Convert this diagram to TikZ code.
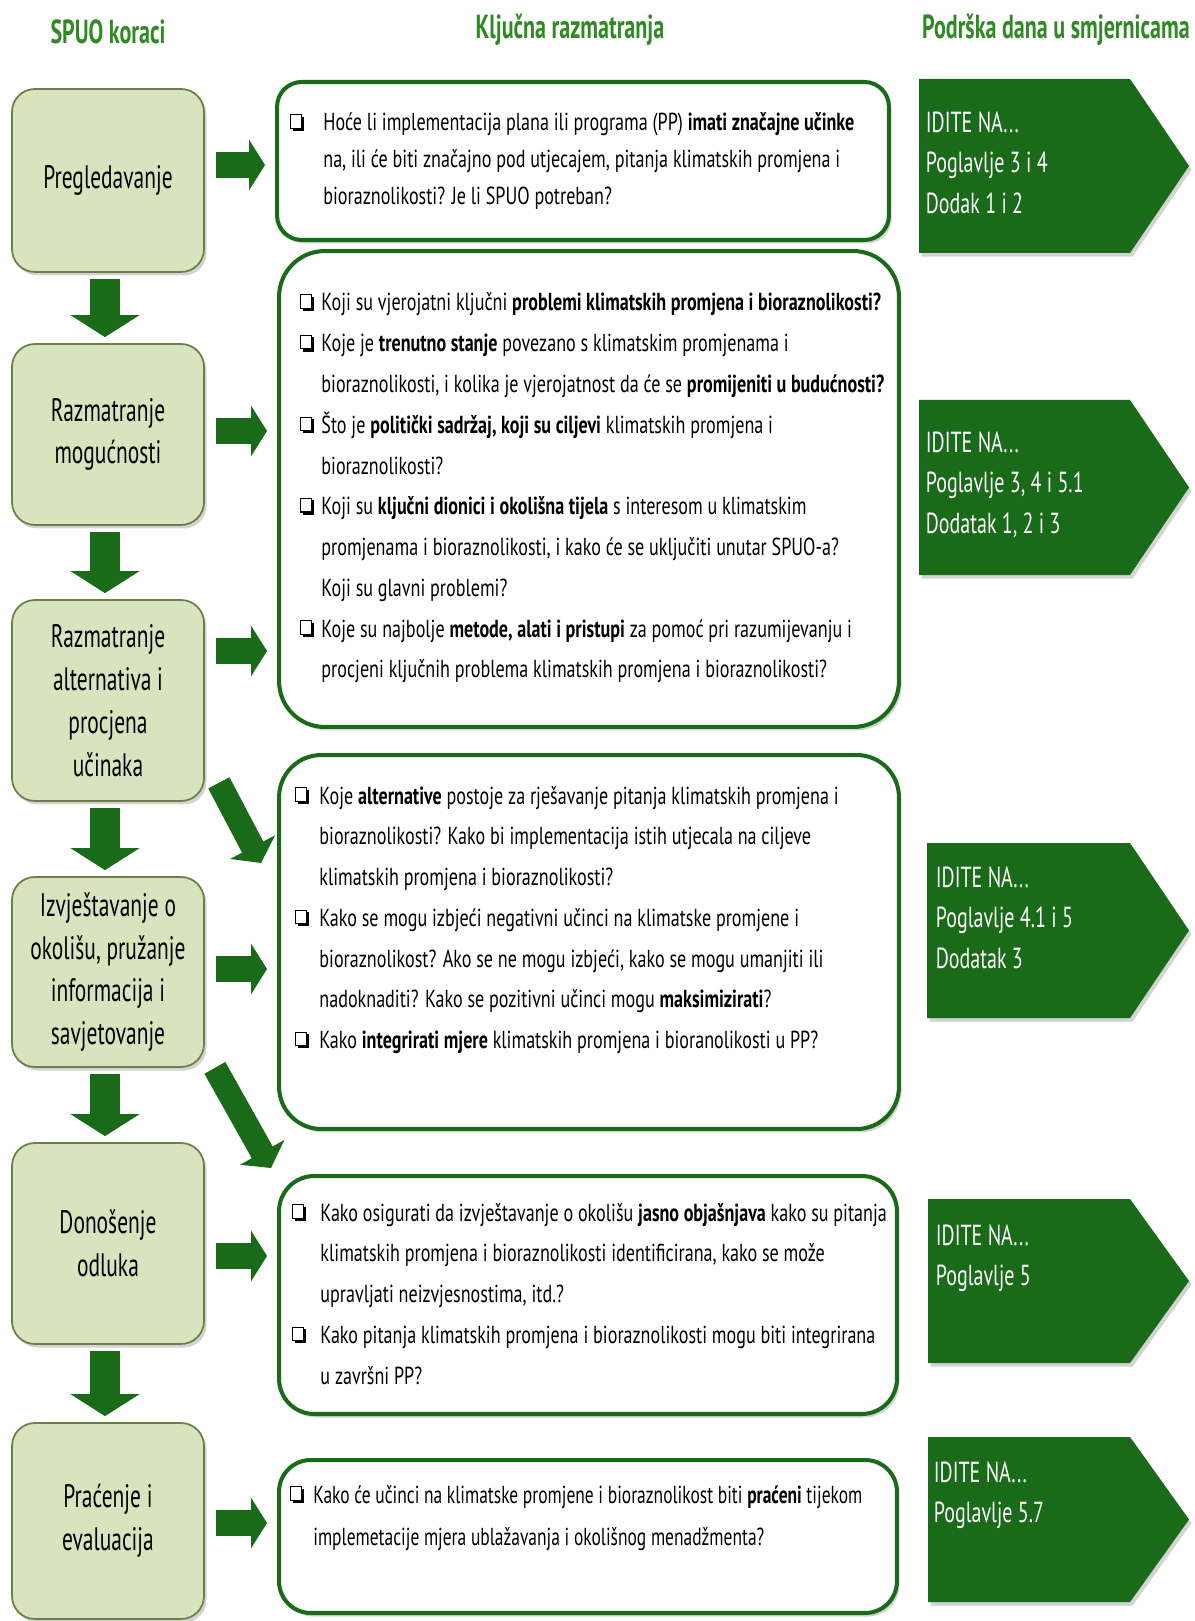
\documentclass[tikz,border=0pt]{standalone}
\usepackage{fontspec}
\setmainfont[FakeStretch=0.66]{PT Sans}
\newfontfamily\qfont[FakeStretch=0.735]{PT Sans}
\newfontfamily\pfont[FakeStretch=0.71]{PT Sans}
\newfontfamily\gfont[FakeStretch=0.69]{PT Sans}
\usetikzlibrary{arrows.meta, calc, shadows}
\definecolor{cdgreen}{HTML}{196B19}
\definecolor{chead}{HTML}{2F8A24}
\definecolor{clight}{HTML}{D7E4BD}
\definecolor{cedge}{HTML}{6B7F4A}
\newcommand{\chk}{\tikz[x=1pt,y=1pt,baseline=0pt]{\draw[line width=0.6pt] (0.3,1.6) rectangle (6.3,9.2); \fill (1.3,1.6) rectangle (7.8,0.1); \fill (6.3,0.1) rectangle (7.8,8.2);}}
\newcommand{\qlist}[2][5pt]{\begin{tabular}[t]{@{}l@{\hspace{#1}}l@{}}#2\end{tabular}}
\newcommand{\glist}[1]{\begin{tabular}[t]{@{}l@{}}#1\end{tabular}}
\tikzset{
  every picture/.style={line width=1pt},
  softshadow/.style={drop shadow={shadow xshift=1.5pt, shadow yshift=-2pt, opacity=0.35}},
  stage/.style={draw=cedge, fill=clight, rounded corners=13pt, minimum width=3.84cm, align=center, font=\fontsize{18.5}{24.4}\selectfont, softshadow},
  query/.style={draw=cdgreen, line width=2.3pt, fill=white, rounded corners=#1, softshadow},
  qtext/.style={anchor=base west, inner sep=0pt, font=\qfont\fontsize{14}{23.2}\selectfont},
  gtext/.style={anchor=base west, inner sep=0pt, text=white, font=\gfont\fontsize{16.5}{23}\selectfont},
  title/.style={font=\bfseries\fontsize{19}{22}\selectfont, text=chead},
  barrow/.style={-{Triangle[length=0.32cm, width=1.0cm]}, draw=cdgreen, line width=0.52cm},
  darrow/.style={-{Triangle[length=0.44cm, width=1.36cm]}, draw=cdgreen, line width=0.6cm, shorten <=0.12cm, shorten >=0.12cm},
  sarrow/.style={-{Triangle[length=0.36cm, width=1.0cm]}, draw=cdgreen, line width=0.48cm},
}

\begin{document}
\begin{tikzpicture}[x=0.02cm, y=-0.02cm]
  \useasboundingbox (0,0) rectangle (1194,1621);
  % headers
  \node[title] (h1) at (108,32) {SPUO koraci};
  \node[title] (h2) at (570,30) {Ključna razmatranja};
  \node[title] (h3) at (1056,30) {Podrška dana u smjernicama};
  % SPUO steps
  \foreach \i/\y/\h/\txt in {1/180.5/3.66/Pregledavanje, 2/434.5/3.62/{Razmatranje\\mogućnosti},
    3/700.5/4.02/{Razmatranje\\alternativa i\\procjena\\učinaka},
    4/972/3.80/{Izvještavanje o\\okolišu, pružanje\\informacija i\\savjetovanje},
    5/1243.5/4.02/{Donošenje\\odluka}, 6/1521/3.92/{Praćenje i\\evaluacija}}
    {\node[stage, minimum height=\h cm] (s\i) at (108,\y) {\txt};}
  \foreach \i/\j in {1/2,2/3,3/4,4/5,5/6}
    {\draw[darrow] ($(s\i.south)+(-3,0)$) -- ($(s\j.north)+(-3,0)$);}
  % key questions
  \foreach \i/\x/\y/\w/\h/\r in {1/583/161/12.24/3.16/14pt, 2/589/489/12.4/9.52/26pt,
    3/589/942/12.4/7.48/24pt, 4/588/1295/12.36/4.76/20pt, 5/588/1536.5/12.36/3.06/18pt}
    {\node[query=\r, minimum width=\w cm, minimum height=\h cm] (q\i) at (\x,\y) {};}
  \node[qtext, font=\qfont\fontsize{14}{21}\selectfont] (t1) at (290,131) {\qlist[11pt]{
    \chk & Hoće li implementacija plana ili programa (PP) \textbf{imati značajne učinke}\\
    & na, ili će biti značajno pod utjecajem, pitanja klimatskih promjena i\\
    & bioraznolikosti? Je li SPUO potreban?}};
  \node[qtext] (t2) at (300,311) {\qlist[4.2pt]{
    \chk & Koji su vjerojatni ključni \textbf{problemi klimatskih promjena i bioraznolikosti?}\\
    \chk & Koje je \textbf{trenutno stanje} povezano s klimatskim promjenama i\\
    & bioraznolikosti, i kolika je vjerojatnost da će se \textbf{promijeniti u budućnosti?}\\
    \chk & Što je \textbf{politički sadržaj, koji su ciljevi} klimatskih promjena i\\
    & bioraznolikosti?\\
    \chk & Koji su \textbf{ključni dionici i okolišna tijela} s interesom u klimatskim\\
    & promjenama i bioraznolikosti, i kako će se uključiti unutar SPUO-a?\\
    & Koji su glavni problemi?\\
    \chk & Koje su najbolje \textbf{metode, alati i pristupi} za pomoć pri razumijevanju i\\
    & procjeni ključnih problema klimatskih promjena i bioraznolikosti?}};
  \node[qtext] (t3) at (295,804) {\qlist[5.9pt]{
    \chk & Koje \textbf{alternative} postoje za rješavanje pitanja klimatskih promjena i\\
    & bioraznolikosti? Kako bi implementacija istih utjecala na ciljeve\\
    & klimatskih promjena i bioraznolikosti?\\
    \chk & Kako se mogu izbjeći negativni učinci na klimatske promjene i\\
    & bioraznolikost? Ako se ne mogu izbjeći, kako se mogu umanjiti ili\\
    & nadoknaditi? Kako se pozitivni učinci mogu \textbf{maksimizirati}?\\
    \chk & Kako \textbf{integrirati mjere} klimatskih promjena i bioranolikosti u PP?}};
  \node[qtext] (t4) at (292,1221) {\qlist[8.2pt]{
    \chk & Kako osigurati da izvještavanje o okolišu \textbf{jasno objašnjava} kako su pitanja\\
    & klimatskih promjena i bioraznolikosti identificirana, kako se može\\
    & upravljati neizvjesnostima, itd.?\\
    \chk & Kako pitanja klimatskih promjena i bioraznolikosti mogu biti integrirana\\
    & u završni PP?}};
  \node[qtext, font=\pfont\fontsize{14}{24.4}\selectfont] (t5) at (290,1503) {\qlist[5.3pt]{
    \chk & Kako će učinci na klimatske promjene i bioraznolikost biti \textbf{praćeni} tijekom\\
    & implemetacije mjera ublažavanja i okolišnog menadžmenta?}};
  % step -> questions
  \foreach \i/\j/\dy in {1/1/-15.5, 2/2/-3.5, 3/2/-49.5, 4/3/-3, 5/4/12.5, 6/5/2} {
    \coordinate (a\i) at ($(s\i.east)+(0,\dy)$);
    \draw[barrow, shorten <=0.22cm, shorten >=0.2cm] (a\i) -- (a\i -| q\j.west);}
  \draw[sarrow] ($(s3.south east)+(14,-19)$) -- ($(q3.north west)+(-16,110)$);
  \draw[sarrow] ($(s4.south east)+(10,0)$) -- ($(q4.north west)+(-6,-6)$);
  % guidance
  \foreach \i/\xa/\ya/\yb in {1/919/79/253, 2/919/400/575, 3/927/843/1018, 4/928/1199/1363, 5/928/1437/1602}
    {\fill[cdgreen, softshadow] (\xa,\ya) -- (1130,\ya) -- (1189,{(\ya+\yb)/2}) -- (1130,\yb) -- (\xa,\yb) -- cycle;}
  \node[gtext] (g1) at (925,132.5) {\glist{IDITE NA...\\Poglavlje 3 i 4\\Dodak 1 i 2}};
  \node[gtext] (g2) at (925,452.5) {\glist{IDITE NA...\\Poglavlje 3, 4 i 5.1\\Dodatak 1, 2 i 3}};
  \node[gtext] (g3) at (935,887.5) {\glist{IDITE NA...\\Poglavlje 4.1 i 5\\Dodatak 3}};
  \node[gtext] (g4) at (935,1245.5) {\glist{IDITE NA...\\Poglavlje 5}};
  \node[gtext] (g5) at (933,1482.5) {\glist{IDITE NA...\\Poglavlje 5.7}};
\end{tikzpicture}
\end{document}
